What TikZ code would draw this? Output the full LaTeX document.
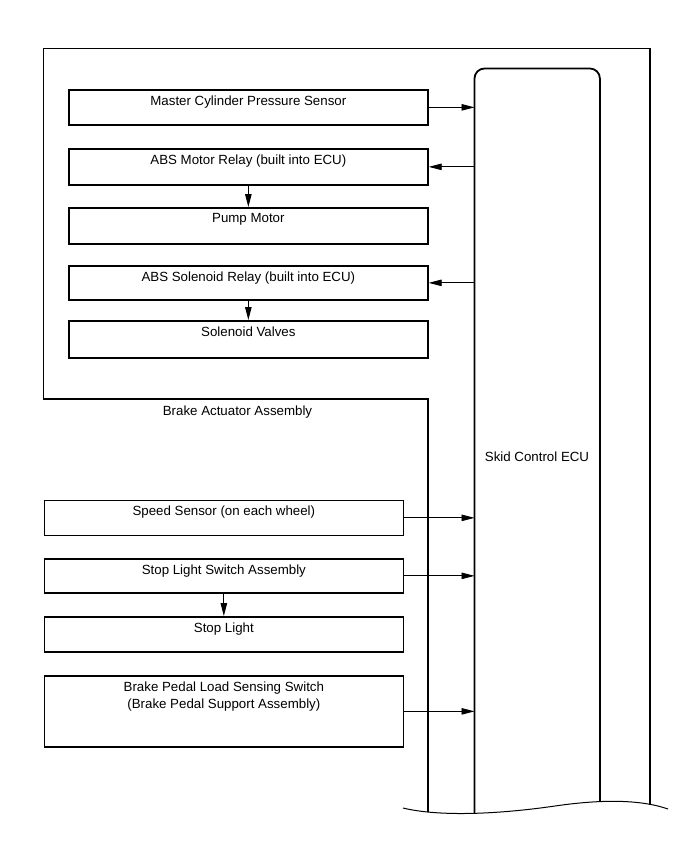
\documentclass[tikz,border=0pt]{standalone}
\usepackage{fontspec}
\setmainfont{Liberation Sans}
\usetikzlibrary{arrows.meta}
\begin{document}
\begin{tikzpicture}[x=1pt,y=-1pt,
  box/.style={draw, line width=1.7pt, rectangle, anchor=north west, inner sep=0pt, minimum width=359pt},
  lbl/.style={anchor=north, inner sep=0pt, align=center, font=\fontsize{13.3}{16.7}\selectfont},
  plain/.style={inner sep=0pt, font=\fontsize{13.3}{16.7}\selectfont},
  arr/.style={line width=0.9pt, -{Triangle[length=13pt,width=6.5pt]}},
  thick line/.style={line width=1.8pt}
]
\useasboundingbox (0,0) rectangle (690,855);

% Skid Control ECU (invisible node for connectors)
\node[anchor=north west, minimum width=125pt, minimum height=745pt, inner sep=0pt] (ecu) at (474.5,68.5) {};

% upper boxes (inside actuator)
\node[box, minimum height=35pt] (mcp) at (68,89) {};
\node[box, minimum height=36pt] (amr) at (68,148) {};
\node[box, minimum height=36pt] (pm)  at (68,207) {};
\node[box, minimum height=34pt] (asr) at (68,265) {};
\node[box, minimum height=37pt] (sv)  at (68,320) {};

% lower boxes
\node[box, minimum height=35pt] (ss)  at (43.5,499.5) {};
\node[box, minimum height=34pt] (sls) at (43.5,558) {};
\node[box, minimum height=35pt] (sl)  at (43.5,616) {};
\node[box, minimum height=71pt] (bp)  at (43.5,675) {};

% labels
\node[lbl] (mcpT) at ([yshift=-6.5pt]mcp.north) {Master Cylinder Pressure Sensor};
\node[lbl] (amrT) at ([yshift=-6.5pt]amr.north) {ABS Motor Relay (built into ECU)};
\node[lbl] (pmT)  at ([yshift=-6.5pt]pm.north)  {Pump Motor};
\node[lbl] (asrT) at ([yshift=-6.5pt]asr.north) {ABS Solenoid Relay (built into ECU)};
\node[lbl] (svT)  at ([yshift=-6.5pt]sv.north)  {Solenoid Valves};
\node[lbl] (ssT)  at ([yshift=-6pt]ss.north)  {Speed Sensor (on each wheel)};
\node[lbl] (slsT) at ([yshift=-6.5pt]sls.north) {Stop Light Switch Assembly};
\node[lbl] (slT)  at ([yshift=-7pt]sl.north)  {Stop Light};
\node[lbl] (bpT)  at ([yshift=-7pt]bp.north)  {Brake Pedal Load Sensing Switch\\(Brake Pedal Support Assembly)};
\node[plain, anchor=base] (baa) at (237.5,415) {Brake Actuator Assembly};
\node[plain, anchor=base] (ecuT) at (537,461) {Skid Control ECU};

% outlines clipped by the break line
\begin{scope}
  \clip (0,0) -- (0,808) -- (403,808)
    .. controls (440,817) and (500,814) .. (555,806)
    .. controls (610,798) and (645,801) .. (668,809)
    -- (690,809) -- (690,0) -- cycle;
  % brake actuator assembly outline
  \draw[thick line] (428,840) -- (428,399) -- (43.5,399) -- (43.5,48.5) -- (650,48.5) -- (650,840);
  % Skid control ECU
  \draw[thick line, rounded corners=10pt] (ecu.west |- 0,840) -- (ecu.north west) -- (ecu.north east) -- (ecu.east |- 0,840);
\end{scope}
% break line
\draw[line width=1pt] (403,808)
    .. controls (440,817) and (500,814) .. (555,806)
    .. controls (610,798) and (645,801) .. (668,809);

% connectors
\draw[arr] (mcp.east) -- (mcp.east -| ecu.west);
\draw[arr] (amr.east -| ecu.west) -- (amr.east);
\draw[arr] (asr.east -| ecu.west) -- (asr.east);
\draw[arr] (amr.south) -- (pm.north);
\draw[arr] (asr.south) -- (sv.north);
\draw[arr] (ss.east) -- (ss.east -| ecu.west);
\draw[arr] (sls.east) -- (sls.east -| ecu.west);
\draw[arr] (sls.south) -- (sl.north);
\draw[arr] (bp.east) -- (bp.east -| ecu.west);
\end{tikzpicture}
\end{document}
